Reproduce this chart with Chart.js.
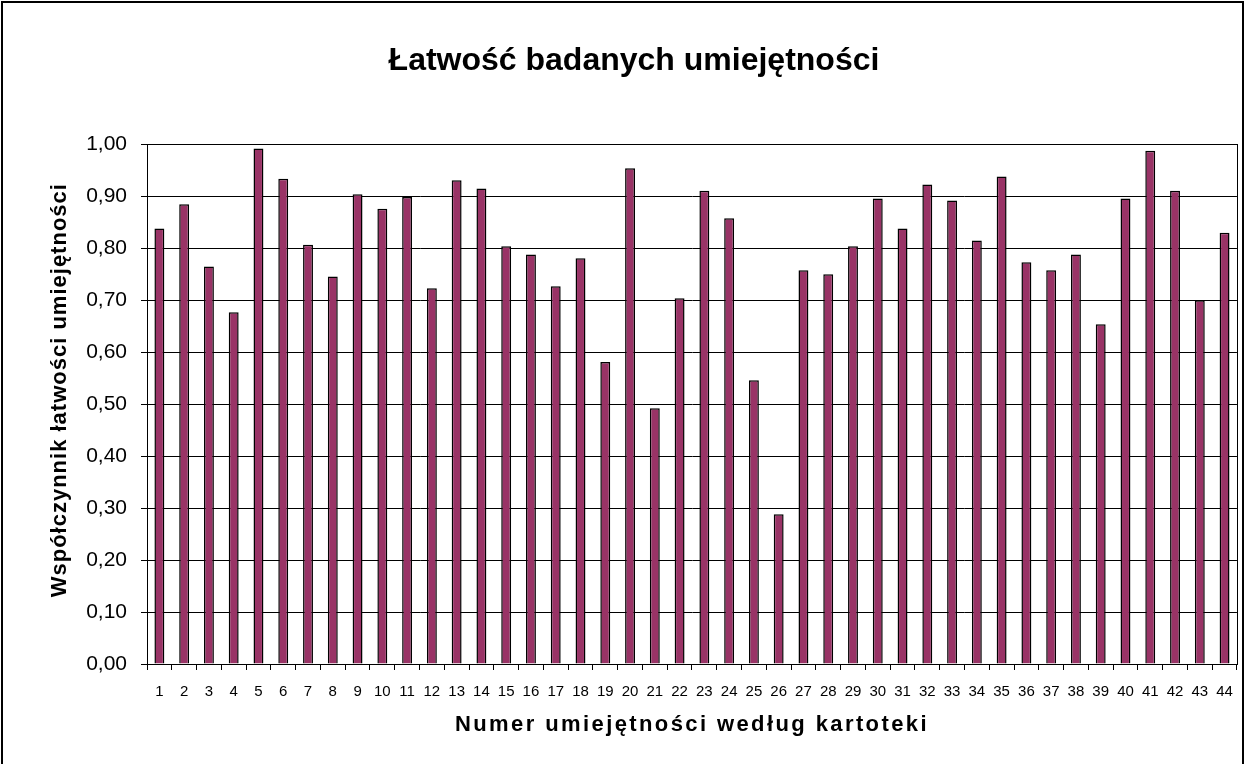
<!DOCTYPE html>
<html lang="pl">
<head>
<meta charset="utf-8">
<title>Łatwość badanych umiejętności</title>
<script src="https://cdn.jsdelivr.net/npm/chart.js@4/dist/chart.umd.min.js"></script>
<style>
    html, body { margin: 0; padding: 0; background: #fff; }
    #chart { display: block; }
</style>
</head>
<body>
<canvas id="chart" width="1246" height="764"></canvas>
<script>
// Chart data
const categories = Array.from({ length: 44 }, (_, i) => String(i + 1));
const easiness = [
    0.838, 0.885, 0.765, 0.677, 0.992, 0.934, 0.807, 0.746, 0.904, 0.876,
    0.899, 0.723, 0.931, 0.915, 0.804, 0.788, 0.727, 0.781, 0.581, 0.954,
    0.492, 0.704, 0.911, 0.858, 0.546, 0.288, 0.758, 0.750, 0.804, 0.896,
    0.838, 0.923, 0.892, 0.815, 0.938, 0.773, 0.758, 0.788, 0.654, 0.896,
    0.988, 0.911, 0.700, 0.830
];
const chartTitle = 'Łatwość badanych umiejętności';
const xTitle = 'Numer umiejętności według kartoteki';
const yTitle = 'Współczynnik łatwości umiejętności';

const FONT = "'Liberation Sans', Arial, sans-serif";

// Frame round the plot area and the chart, plus letter-spaced axis titles
const framePlugin = {
    id: 'frame',
    afterDraw(chart) {
        const { ctx, chartArea } = chart;
        ctx.save();
        ctx.strokeStyle = '#000';
        ctx.lineWidth = 1;
        ctx.strokeRect(Math.round(chartArea.left) + 0.5, Math.round(chartArea.top) + 0.5,
            Math.round(chartArea.right - chartArea.left), Math.round(chartArea.bottom - chartArea.top));
        ctx.lineWidth = 2;
        ctx.strokeRect(2, 2, chart.width - 5, chart.height + 10);

        // axis titles (Excel draws them with wide letter spacing)
        ctx.fillStyle = '#000';
        ctx.textAlign = 'center';
        ctx.textBaseline = 'middle';
        ctx.font = 'bold 22px ' + FONT;
        ctx.letterSpacing = '2.4px';
        ctx.fillText(xTitle, (chartArea.left + chartArea.right) / 2, chartArea.bottom + 61);

        ctx.letterSpacing = '1px';
        ctx.translate(60, (chartArea.top + chartArea.bottom) / 2 - 14);
        ctx.rotate(-Math.PI / 2);
        ctx.fillText(yTitle, 0, 0);
        ctx.restore();
    }
};

function initChart() {
    const ctx = document.getElementById('chart').getContext('2d');

    new Chart(ctx, {
        type: 'bar',
        data: {
            labels: categories,
            datasets: [{
                data: easiness,
                backgroundColor: '#993366',
                borderColor: '#000',
                borderWidth: 1.5,
                borderSkipped: 'bottom',
                barPercentage: 0.4,
                categoryPercentage: 1
            }]
        },
        options: {
            responsive: false,
            animation: false,
            layout: { padding: { left: 30, right: 8, top: 0, bottom: 0 } },
            plugins: {
                legend: { display: false },
                tooltip: { enabled: false },
                title: {
                    display: true,
                    text: chartTitle,
                    color: '#000',
                    font: { family: FONT, size: 32, weight: 'bold' },
                    padding: { top: 42, bottom: 64 }
                }
            },
            scales: {
                x: {
                    offset: true,
                    grid: {
                        offset: true,
                        drawOnChartArea: false,
                        color: '#000',
                        tickLength: 6
                    },
                    border: { color: '#000', width: 1 },
                    ticks: {
                        color: '#000',
                        font: { family: FONT, size: 15 },
                        maxRotation: 0,
                        autoSkip: false,
                        padding: 13
                    },
                    afterFit: (scale) => { scale.height = 100; }
                },
                y: {
                    min: 0,
                    max: 1,
                    grid: { color: '#000', lineWidth: 1, tickLength: 6 },
                    border: { color: '#000', width: 1 },
                    ticks: {
                        stepSize: 0.1,
                        color: '#000',
                        font: { family: FONT, size: 21 },
                        padding: 14,
                        callback: (v) => v.toFixed(2).replace('.', ',')
                    },
                    afterFit: (scale) => { scale.width = 117; }
                }
            }
        },
        plugins: [framePlugin]
    });
}

initChart();
</script>
</body>
</html>
